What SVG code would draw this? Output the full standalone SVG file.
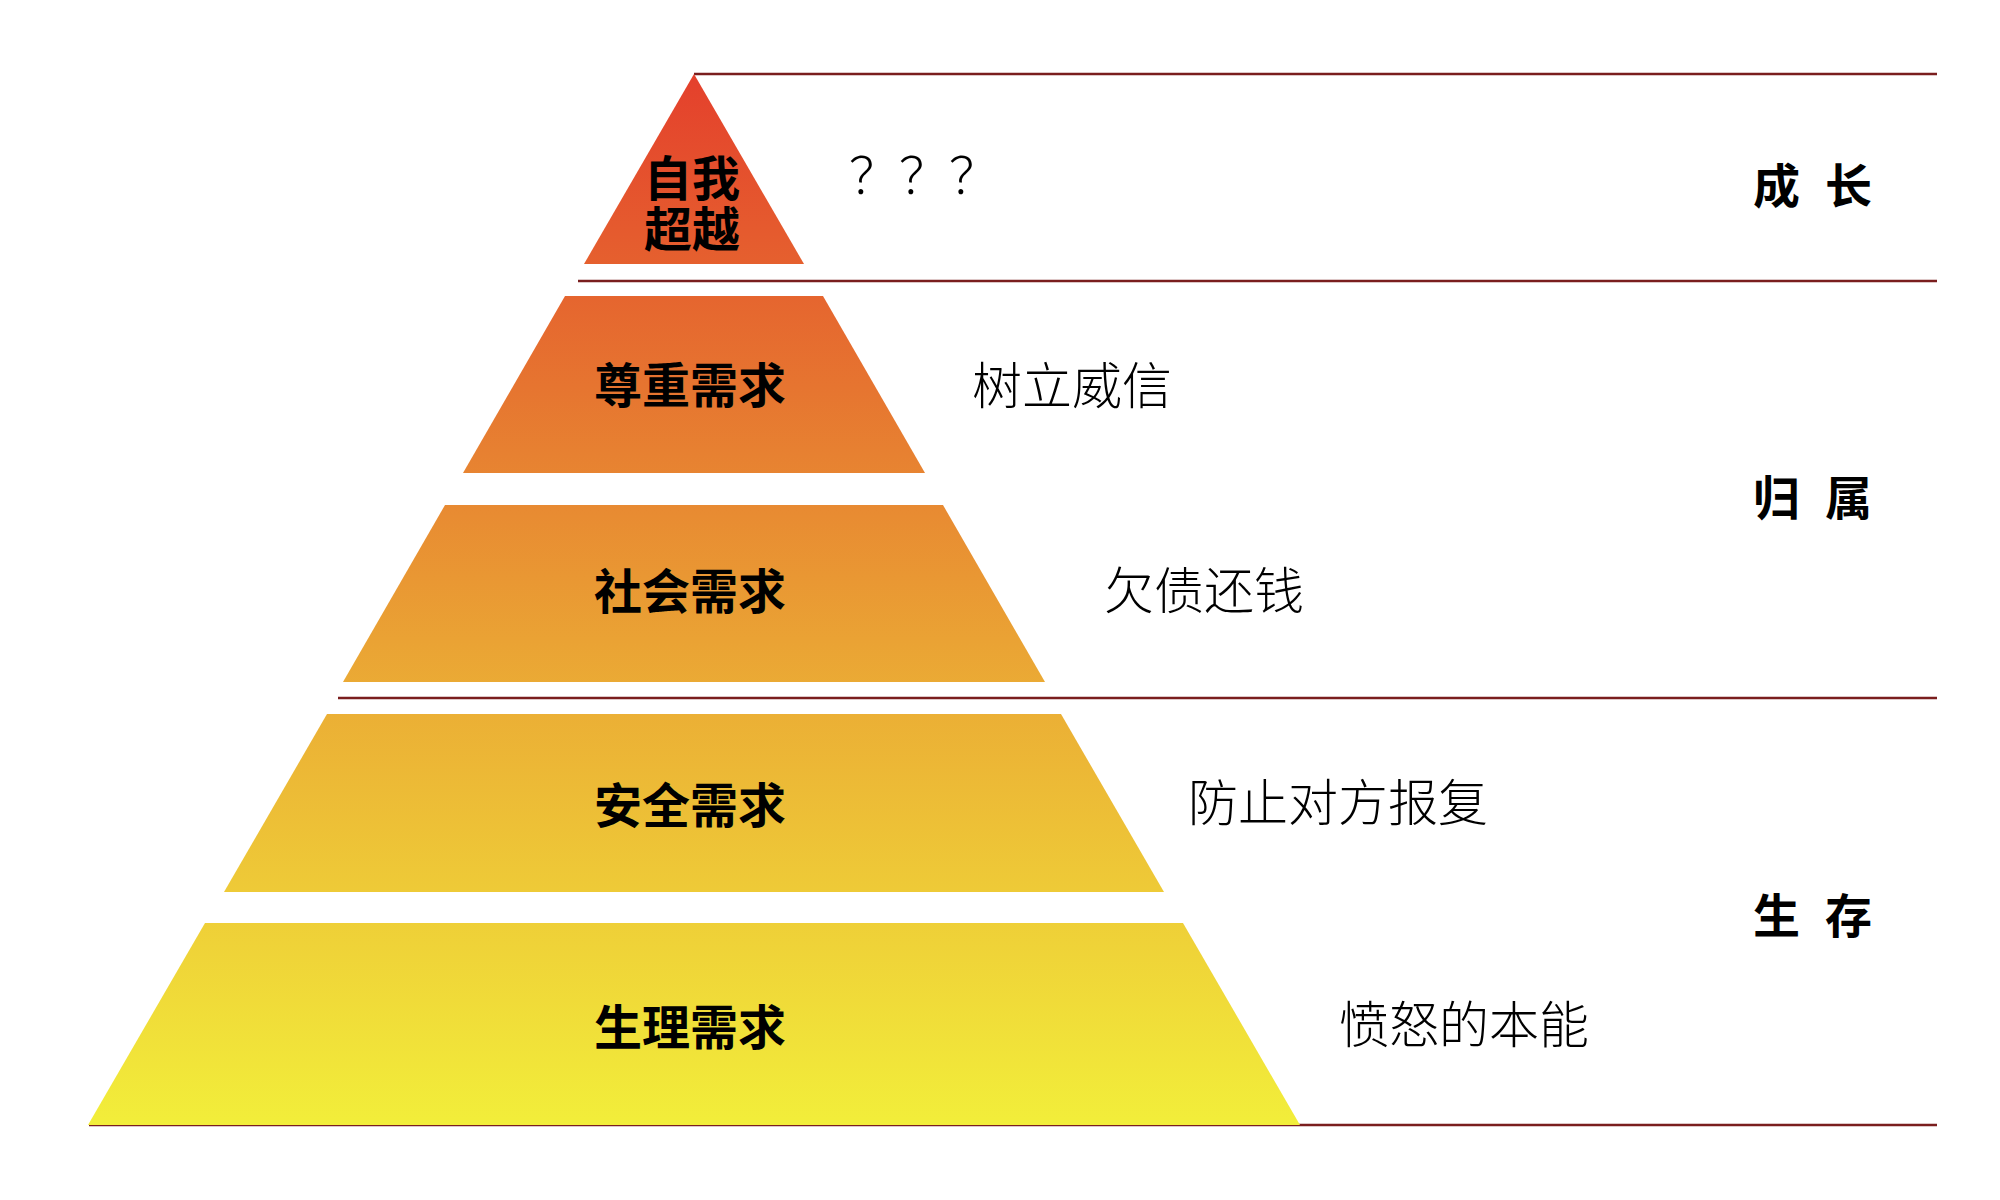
<svg xmlns="http://www.w3.org/2000/svg" width="2000" height="1200" viewBox="0 0 2000 1200">
<defs>
<linearGradient id="pyr" gradientUnits="userSpaceOnUse" x1="0" y1="74" x2="0" y2="1125">
<stop offset="0" stop-color="#E4402C"/>
<stop offset="0.3" stop-color="#E67530"/>
<stop offset="0.6" stop-color="#EBAE35"/>
<stop offset="1" stop-color="#F2EE3A"/>
</linearGradient>
<style>
.tier{fill:url(#pyr);}
.lbl{font-family:"Noto Sans CJK SC","Noto Sans",sans-serif;font-size:48px;font-weight:bold;fill:#000;text-anchor:middle;}
.desc{font-family:"Noto Sans CJK SC","Noto Sans",sans-serif;font-size:50px;font-weight:300;fill:#000;}
.cat{font-family:"Noto Sans CJK SC","Noto Sans",sans-serif;font-size:47px;font-weight:bold;fill:#000;}
.sep{stroke:#7A1E1E;stroke-width:2.5;fill:none;}
</style>
</defs>
<rect width="2000" height="1200" fill="#FFFFFF"/>
<g id="connectors">
<line class="sep" x1="694" y1="74" x2="1937" y2="74"/>
<line class="sep" x1="578" y1="281" x2="1937" y2="281"/>
<line class="sep" x1="338" y1="698" x2="1937" y2="698"/>
<line class="sep" x1="89" y1="1125" x2="1937" y2="1125"/>
</g>
<g id="tier-self">
<polygon class="tier" points="694,74 804,264 584,264"/>
<text class="lbl" font-size="44"><tspan x="692" y="196">自我</tspan><tspan x="692" y="247">超越</tspan></text>
</g>
<g id="tier-esteem">
<polygon class="tier" points="565,296 823,296 925,473 463,473"/>
<text class="lbl" x="690" y="403">尊重需求</text>
</g>
<g id="tier-social">
<polygon class="tier" points="445,505 943,505 1045,682 343,682"/>
<text class="lbl" x="690" y="609">社会需求</text>
</g>
<g id="tier-safety">
<polygon class="tier" points="327,714 1061,714 1164,892 224,892"/>
<text class="lbl" x="690" y="823">安全需求</text>
</g>
<g id="tier-physio">
<polygon class="tier" points="205,923 1183,923 1300,1125 88,1125"/>
<text class="lbl" x="690" y="1045">生理需求</text>
</g>
<g id="desc-self"><text class="desc" x="849" y="194" font-size="49">？？？</text></g>
<g id="desc-esteem"><text class="desc" x="972" y="404">树立威信</text></g>
<g id="desc-social"><text class="desc" x="1104" y="609">欠债还钱</text></g>
<g id="desc-safety"><text class="desc" x="1188" y="821">防止对方报复</text></g>
<g id="desc-physio"><text class="desc" x="1339" y="1043">愤怒的本能</text></g>
<g id="cat-growth"><text class="cat" x="1753 1800 1825" y="203">成 长</text></g>
<g id="cat-belong"><text class="cat" x="1753 1800 1825" y="515">归 属</text></g>
<g id="cat-survive"><text class="cat" x="1753 1800 1825" y="933">生 存</text></g>
</svg>
